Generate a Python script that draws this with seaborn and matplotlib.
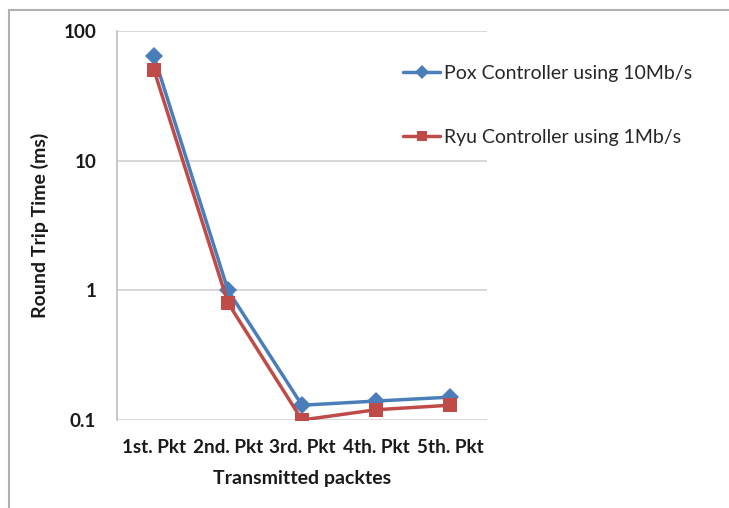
import matplotlib

matplotlib.use("Agg")
import matplotlib.pyplot as plt
import matplotlib.ticker as mticker
from matplotlib.lines import Line2D
import pandas as pd
import seaborn as sns

packets = ["1st. Pkt", "2nd. Pkt", "3rd. Pkt", "4th. Pkt", "5th. Pkt"]
pox_rtt = [64, 1.0, 0.13, 0.14, 0.15]
ryu_rtt = [50, 0.8, 0.1, 0.12, 0.13]
series = ["Pox Controller using 10Mb/s", "Ryu Controller using 1Mb/s"]

df = pd.DataFrame({
    "packet": packets * 2,
    "rtt": pox_rtt + ryu_rtt,
    "series": [series[0]] * len(packets) + [series[1]] * len(packets),
})

sns.set_theme(style="white")
plt.rcParams["font.family"] = ["Lato", "DejaVu Sans"]

fig = plt.figure(figsize=(7.29, 5.08), dpi=100)
ax = fig.add_axes([117 / 729, 1 - 420 / 508, 370 / 729, 389 / 508])

palette = {series[0]: "#4A7EBB", series[1]: "#BE4B48"}
markers = {series[0]: "D", series[1]: "s"}
sns.lineplot(
    data=df, x="packet", y="rtt", hue="series", style="series",
    palette=palette, markers=markers, dashes=False, markersize=9.5,
    markeredgewidth=0, linewidth=2.5, sort=False, ax=ax,
)
ax.set_yscale("log")
ax.set_ylim(0.1, 100)
ax.set_xlim(-0.5, len(packets) - 0.5)
ax.yaxis.set_major_locator(mticker.FixedLocator([0.1, 1, 10, 100]))
ax.yaxis.set_major_formatter(mticker.FixedFormatter(["0.1", "1", "10", "100"]))
ax.yaxis.set_minor_locator(mticker.NullLocator())
ax.grid(axis="y", color="#D4D4D4", linewidth=1.3)
ax.set_axisbelow(True)
for side in ["top", "right", "bottom"]:
    ax.spines[side].set_visible(False)
ax.spines["left"].set_color("#BDBDBD")
ax.spines["left"].set_linewidth(1.2)
ax.tick_params(axis="both", length=0, labelsize=13.6, colors="#1a1a1a")
ax.tick_params(axis="y", pad=15)
ax.tick_params(axis="x", pad=14)
for lab in ax.get_xticklabels() + ax.get_yticklabels():
    lab.set_fontweight("bold")
ax.set_xlabel("Transmitted packtes", fontsize=14, fontweight="bold",
              color="#1a1a1a", labelpad=10)
ax.set_ylabel("Round Trip Time (ms)", fontsize=14, fontweight="bold",
              color="#1a1a1a", labelpad=10)

handles, labels = ax.get_legend_handles_labels()
ax.get_legend().remove()
fig.legend(
    handles, labels, loc="upper left", bbox_to_anchor=(386 / 729, 1 - 47 / 508),
    frameon=False, fontsize=14, labelspacing=2.45, handlelength=1.9,
    handletextpad=0.2, markerscale=0.7,
)

# outer chart border (left and top edges visible)
border = "#B0B0B0"
fig.add_artist(Line2D([9 / 729, 9 / 729], [0, 1 - 10 / 508], color=border, lw=1.5))
fig.add_artist(Line2D([9 / 729, 1], [1 - 10 / 508, 1 - 10 / 508], color=border, lw=1.5))

fig.savefig("out.png", dpi=100)
plt.close(fig)
